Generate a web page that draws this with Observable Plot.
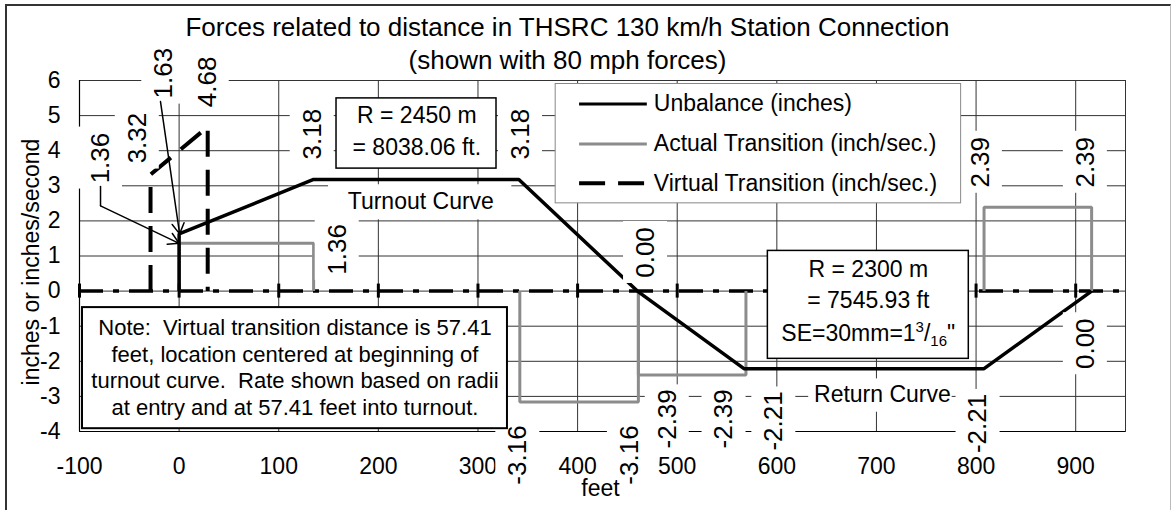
<!DOCTYPE html>
<html><head><meta charset="utf-8">
<script src="https://cdn.jsdelivr.net/npm/d3@7"></script>
<script src="https://cdn.jsdelivr.net/npm/@observablehq/plot@0.6"></script>
<style>
body{margin:0;background:#fff;}
#wrap{position:relative;width:1171px;height:510px;overflow:hidden;background:#fff;}
#border{position:absolute;left:5px;top:4px;width:1163px;height:600px;border-left:2px solid #333;border-top:2px solid #333;border-right:1px solid #bbb;}
#chart{position:absolute;left:0;top:0;}
</style></head><body>
<div id="wrap"><div id="border"></div><div id="chart"></div></div>
<script>
// ---- data ----
const titleText = "Forces related to distance in THSRC 130 km/h Station Connection";
const subtitleText = "(shown with 80 mph forces)";
const xLabel = "feet";
const yLabel = "inches or inches/second";
const seriesNames = ["Unbalance (inches)", "Actual Transition (inch/sec.)", "Virtual Transition (inch/sec.)"];
const xTicks = [-100, 0, 100, 200, 300, 400, 500, 600, 700, 800, 900];
const yTicks = [-4, -3, -2, -1, 0, 1, 2, 3, 4, 5, 6];

const unbalanceFeet = [0, 0, 135, 341, 460, 567, 808, 916];
const unbalanceInches = [0, 1.63, 3.18, 3.18, 0, -2.21, -2.21, 0];

const actualFeet = [0, 0, 135, 135, 342, 342, 461, 461, 461, 461, 569, 569, 808, 808, 916, 916];
const actualRate = [0, 1.36, 1.36, 0, 0, -3.16, -3.16, 0, 0, -2.39, -2.39, 0, 0, 2.39, 2.39, 0];
const actualPiece = [1, 1, 1, 1, 2, 2, 2, 2, 3, 3, 3, 3, 4, 4, 4, 4];

const virtualFeet = [-28.7, -28.7, 28.7, 28.7];
const virtualRate = [0, 3.32, 4.68, 0];

const valueLabelText = ["1.36", "3.32", "1.63", "4.68", "3.18", "3.18", "1.36", "0.00", "2.39", "2.39", "0.00", "-3.16", "-3.16", "-2.39", "-2.39", "-2.21", "-2.21"];
const valueLabelFeet = [-78.9, -42, -15.4, 28.2, 133.6, 342.7, 158.7, 468.2, 804.3, 909.7, 909.7, 340, 452, 490, 547, 597, 802];
const valueLabelAt = [3.79, 4.36, 6.21, 5.96, 4.47, 4.47, 1.19, 1.1, 3.67, 3.67, -1.5, -4.67, -4.67, -3.64, -3.64, -3.7, -3.77];

const noteText = "Note:  Virtual transition distance is 57.41\nfeet, location centered at beginning of\nturnout curve.  Rate shown based on radii\nat entry and at 57.41 feet into turnout.";
const box1Text = ["R = 2450 m", "= 8038.06 ft."];
const box2Text = ["R = 2300 m", "= 7545.93 ft", "SE=30mm=1³/16\""];
const curveNames = ["Turnout Curve", "Return Curve"];

// ---- tables ----
const unbalance = unbalanceFeet.map((x, i) => ({x, y: unbalanceInches[i]}));
const actual = actualFeet.map((x, i) => ({x, y: actualRate[i], piece: actualPiece[i]}));
const virtual = virtualFeet.map((x, i) => ({x, y: virtualRate[i]}));
const valueLabels = valueLabelText.map((t, i) => ({text: t, x: valueLabelFeet[i], y: valueLabelAt[i]}));

const legendY = [5.33, 4.19, 3.07];
const legendRows = seriesNames.map((name, i) => ({name, y: legendY[i], i}));

const FONT = "'Liberation Sans', Arial, sans-serif";

const plot = Plot.plot({
  width: 1171,
  height: 510,
  marginLeft: 79,
  marginRight: 46,
  marginTop: 80,
  marginBottom: 79,
  style: {fontFamily: FONT, fontSize: "23px", color: "black", background: "transparent", overflow: "visible"},
  x: {domain: [-100, 950], ticks: xTicks, tickSize: 0, tickPadding: 26, tickFormat: d => String(d), label: null},
  y: {domain: [-4, 6], ticks: yTicks, tickSize: 0, tickPadding: 19, tickFormat: d => String(d), label: null},
  marks: [
    Plot.ruleY(yTicks, {stroke: "#333", strokeWidth: 1}),
    Plot.ruleX(xTicks, {stroke: "#333", strokeWidth: 1}),
    Plot.frame({stroke: "#333"}),
    Plot.ruleX([-100], {stroke: "black", strokeWidth: 1.2}),
    Plot.ruleY([-4], {stroke: "black", strokeWidth: 1.2}),
    // zero axis line with cross ticks
    Plot.ruleY([0], {stroke: "black", strokeWidth: 3.5, strokeDasharray: "24,10,6,10"}),
    Plot.ruleX(xTicks, {y1: -0.2, y2: 0.2, stroke: "black", strokeWidth: 3}),
    // series
    Plot.line(virtual, {x: "x", y: "y", stroke: "black", strokeWidth: 4, strokeDasharray: "26,13", strokeLinecap: "butt", strokeLinejoin: "miter"}),
    Plot.line(actual, {x: "x", y: "y", z: "piece", stroke: "#8c8c8c", strokeWidth: 3, strokeLinecap: "butt", strokeLinejoin: "miter"}),
    Plot.line(unbalance, {x: "x", y: "y", stroke: "black", strokeWidth: 3.5, strokeLinecap: "butt", strokeLinejoin: "miter"}),
    // value label backgrounds
    Plot.rect(valueLabels.filter(d => d.text.length <= 4), {x1: "x", x2: "x", y1: "y", y2: "y", insetLeft: -22, insetRight: -22, insetTop: -31, insetBottom: -31, fill: "white"}),
    Plot.rect(valueLabels.filter(d => d.text.length > 4), {x1: "x", x2: "x", y1: "y", y2: "y", insetLeft: -22, insetRight: -22, insetTop: -34, insetBottom: -34, fill: "white"}),
    Plot.text(valueLabels, {x: "x", y: "y", text: "text", rotate: -90, fontSize: 26, textAnchor: "middle", lineAnchor: "middle", fill: "black"}),
    // curve names
    Plot.rect([curveNames[0]], {x1: 150, x2: 334, y1: 3.03, y2: 2.03, fill: "white"}),
    Plot.rect([curveNames[1]], {x1: 632, x2: 776, y1: -2.5, y2: -3.45, fill: "white"}),
    Plot.text([curveNames[0]], {x: 242.6, y: 2.56, text: d => d, fontSize: 23, lineAnchor: "middle"}),
    Plot.text([curveNames[1]], {x: 706, y: -2.96, text: d => d, fontSize: 23, lineAnchor: "middle"}),
    // radius boxes
    Plot.rect([0], {x1: 158, x2: 318.6, y1: 5.49, y2: 3.49, fill: "white", stroke: "black", strokeWidth: 1.5}),
    Plot.text(box1Text, {x: 238.6, y: (d, i) => [4.99, 4.1][i], text: d => d, fontSize: 23, lineAnchor: "middle"}),
    Plot.rect([0], {x1: 591, x2: 792.7, y1: 1.145, y2: -1.93, fill: "white", stroke: "black", strokeWidth: 1.5}),
    Plot.text(box2Text, {x: 691.8, y: (d, i) => [0.61, -0.27, -1.2][i], text: d => d, fontSize: 23, lineAnchor: "middle"}),
    // note box
    Plot.rect([0], {x1: -97, x2: 329.6, y1: -0.47, y2: -3.92, fill: "white", stroke: "black", strokeWidth: 2}),
    Plot.text([noteText], {x: 116.3, y: -2.15, text: d => d, fontSize: 22, lineHeight: 1.21, lineAnchor: "middle"}),
    // legend
    Plot.rect([0], {x1: 378, x2: 785, y1: 5.9, y2: 2.5, fill: "white", stroke: "#888", strokeWidth: 1}),
    Plot.ruleY(legendRows.filter(d => d.i === 0), {y: "y", x1: 402, x2: 470, stroke: "black", strokeWidth: 3}),
    Plot.ruleY(legendRows.filter(d => d.i === 1), {y: "y", x1: 402, x2: 470, stroke: "#8c8c8c", strokeWidth: 3}),
    Plot.ruleY(legendRows.filter(d => d.i === 2), {y: "y", x1: 402, x2: 470, stroke: "black", strokeWidth: 4, strokeDasharray: "26,13"}),
    Plot.text(legendRows, {x: 476.5, y: "y", text: "name", textAnchor: "start", lineAnchor: "middle", fontSize: 23}),
    // leader lines
    Plot.line([{x: -78.9, y: 2.98}, {x: -78.9, y: 2.43}], {x: "x", y: "y", stroke: "black", strokeWidth: 1.5}),
    Plot.arrow([{x1: -78.9, y1: 2.43, x2: 0, y2: 1.36}, {x1: -18.7, y1: 5.4, x2: 0.5, y2: 1.63}], {x1: "x1", y1: "y1", x2: "x2", y2: "y2", stroke: "black", strokeWidth: 1.5, headLength: 12}),
    // titles and axis labels
    Plot.text([titleText], {frameAnchor: "top", text: d => d, textAnchor: "middle", dx: -35, dy: -53, fontSize: 26, lineAnchor: "middle"}),
    Plot.text([subtitleText], {frameAnchor: "top", text: d => d, textAnchor: "middle", dx: -35, dy: -20, fontSize: 26, lineAnchor: "middle"}),
    Plot.text([yLabel], {frameAnchor: "left", text: d => d, rotate: -90, textAnchor: "middle", dx: -48, dy: 6, fontSize: 23, lineAnchor: "middle"}),
    Plot.text([xLabel], {frameAnchor: "bottom", text: d => d, textAnchor: "middle", dx: -2, dy: 57, fontSize: 23, lineAnchor: "middle"})
  ]
});

// superscript/subscript fraction in SE text
plot.querySelectorAll("text").forEach(t => {
  if (t.textContent.startsWith("SE=30mm")) {
    while (t.firstChild) t.removeChild(t.firstChild);
    const ns = "http://www.w3.org/2000/svg";
    const parts = [["SE=30mm=1", null, null], ["3", "15", "-9"], ["/", "23", "9"], ["16", "15", "5"], ["\"", "23", "-5"]];
    parts.forEach(([s, fs, dy]) => {
      const sp = document.createElementNS(ns, "tspan");
      sp.textContent = s;
      if (fs) sp.setAttribute("font-size", fs);
      if (dy) sp.setAttribute("dy", dy);
      t.appendChild(sp);
    });
  }
});

document.getElementById("chart").appendChild(plot);
</script>
</body></html>
